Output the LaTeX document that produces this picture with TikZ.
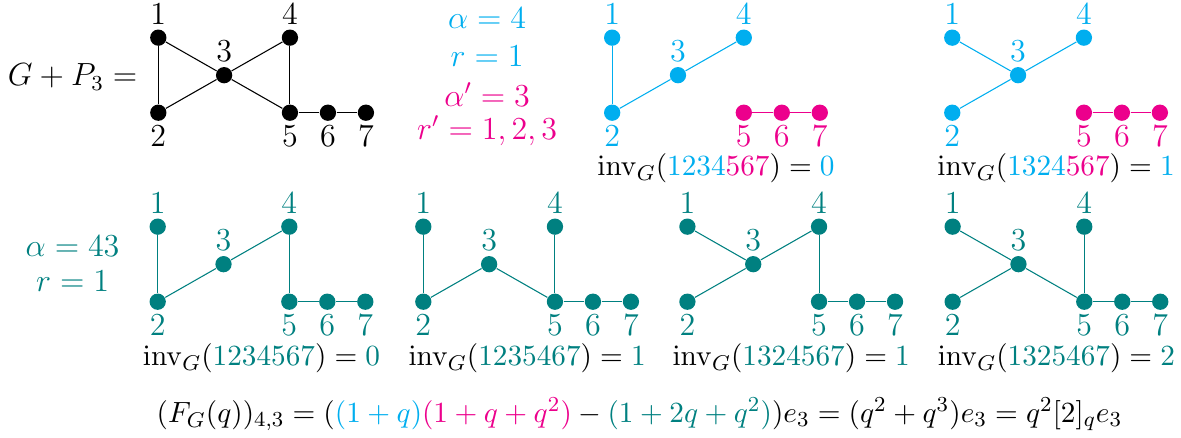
\documentclass[tikz,border=0pt]{standalone}
\usepackage{amsmath,amssymb}
\usepackage{xcolor}
\usepackage{tikz}
\usetikzlibrary{positioning}

\definecolor{myblue}{RGB}{0,174,239}
\definecolor{mypink}{RGB}{236,0,140}
\definecolor{myteal}{RGB}{0,128,128}

% the seven vertices of one graph: #1 colour of 1--4, #2 colour of 5--7
\newcommand{\sevenverts}[2]{%
  \node[vert=#1, label={[numlab=#1]above:$1$}] (v1) at (0,1.975) {};
  \node[vert=#1, label={[numlab=#1]below:$2$}] (v2) at (0,0) {};
  \node[vert=#1, label={[numlab=#1]above:$3$}] (v3) at (1.732,0.9875) {};
  \node[vert=#1, label={[numlab=#1]above:$4$}] (v4) at (3.464,1.975) {};
  \node[vert=#2, label={[numlab=#2]below:$5$}] (v5) at (3.464,0) {};
  \node[vert=#2, label={[numlab=#2]below:$6$}] (v6) at (4.464,0) {};
  \node[vert=#2, label={[numlab=#2]below:$7$}] (v7) at (5.464,0) {};
}

\begin{document}
\begin{tikzpicture}[
    x=0.5cm, y=0.5cm,
    vert/.style={circle, fill=#1, inner sep=0pt, minimum size=6.1pt},
    numlab/.style={text=#1, font=\large, inner sep=1.5pt},
    link/.style={draw=#1, line width=0.4pt},
    txt/.style={font=\large, anchor=base, inner sep=0pt},
    invtxt/.style={font=\fontsize{11}{13}\selectfont, anchor=base, inner sep=0pt}
]
\useasboundingbox (0,0) rectangle (31.08,-11.526);

% G + P_3
\node[txt] (gname) at (1.91,-2.263) {$G+P_3=$};
\begin{scope}[shift={(4.166,-2.966)}, name prefix=g-]
  \sevenverts{black}{black}
  \draw[link=black] (v1) -- (v2);
  \draw[link=black] (v1) -- (v3);
  \draw[link=black] (v2) -- (v3);
  \draw[link=black] (v3) -- (v4);
  \draw[link=black] (v3) -- (v5);
  \draw[link=black] (v4) -- (v5);
  \draw[link=black] (v5) -- (v6);
  \draw[link=black] (v6) -- (v7);
\end{scope}

% parameters of the top row
\node[txt, text=myblue] (alpha) at (12.82,-0.745) {$\alpha=4$};
\node[txt, text=myblue] (rval) at (12.82,-1.755) {$r=1$};
\node[txt, text=mypink] (alphap) at (12.82,-2.79) {$\alpha'=3$};
\node[txt, text=mypink] (rvalp) at (12.82,-3.66) {$r'=1,2,3$};

% top row
\begin{scope}[shift={(16.11,-2.966)}, name prefix=b1-]
  \sevenverts{myblue}{mypink}
  \draw[link=myblue] (v1) -- (v2);
  \draw[link=myblue] (v2) -- (v3);
  \draw[link=myblue] (v3) -- (v4);
  \draw[link=mypink] (v5) -- (v6);
  \draw[link=mypink] (v6) -- (v7);
  \node[invtxt] (inv) at (2.732,-1.664) {$\mathrm{inv}_G(\textcolor{myblue}{1234}\textcolor{mypink}{567})=\textcolor{myblue}{0}$};
\end{scope}
\begin{scope}[shift={(25.06,-2.966)}, name prefix=b2-]
  \sevenverts{myblue}{mypink}
  \draw[link=myblue] (v1) -- (v3);
  \draw[link=myblue] (v2) -- (v3);
  \draw[link=myblue] (v3) -- (v4);
  \draw[link=mypink] (v5) -- (v6);
  \draw[link=mypink] (v6) -- (v7);
  \node[invtxt] (inv) at (2.732,-1.664) {$\mathrm{inv}_G(\textcolor{myblue}{1324}\textcolor{mypink}{567})=\textcolor{myblue}{1}$};
\end{scope}

% bottom row
\node[txt, text=myteal] (alphab) at (1.91,-6.737) {$\alpha=43$};
\node[txt, text=myteal] (rvalb) at (1.91,-7.675) {$r=1$};

\begin{scope}[shift={(4.15,-7.94)}, name prefix=t1-]
  \sevenverts{myteal}{myteal}
  \draw[link=myteal] (v1) -- (v2);
  \draw[link=myteal] (v2) -- (v3);
  \draw[link=myteal] (v3) -- (v4);
  \draw[link=myteal] (v4) -- (v5);
  \draw[link=myteal] (v5) -- (v6);
  \draw[link=myteal] (v6) -- (v7);
  \node[invtxt] (inv) at (2.732,-1.69) {$\mathrm{inv}_G(\textcolor{myteal}{1234567})=\textcolor{myteal}{0}$};
\end{scope}
\begin{scope}[shift={(11.14,-7.94)}, name prefix=t2-]
  \sevenverts{myteal}{myteal}
  \draw[link=myteal] (v1) -- (v2);
  \draw[link=myteal] (v2) -- (v3);
  \draw[link=myteal] (v3) -- (v5);
  \draw[link=myteal] (v4) -- (v5);
  \draw[link=myteal] (v5) -- (v6);
  \draw[link=myteal] (v6) -- (v7);
  \node[invtxt] (inv) at (2.732,-1.69) {$\mathrm{inv}_G(\textcolor{myteal}{1235467})=\textcolor{myteal}{1}$};
\end{scope}
\begin{scope}[shift={(18.09,-7.94)}, name prefix=t3-]
  \sevenverts{myteal}{myteal}
  \draw[link=myteal] (v1) -- (v3);
  \draw[link=myteal] (v2) -- (v3);
  \draw[link=myteal] (v3) -- (v4);
  \draw[link=myteal] (v4) -- (v5);
  \draw[link=myteal] (v5) -- (v6);
  \draw[link=myteal] (v6) -- (v7);
  \node[invtxt] (inv) at (2.732,-1.69) {$\mathrm{inv}_G(\textcolor{myteal}{1324567})=\textcolor{myteal}{1}$};
\end{scope}
\begin{scope}[shift={(25.07,-7.94)}, name prefix=t4-]
  \sevenverts{myteal}{myteal}
  \draw[link=myteal] (v1) -- (v3);
  \draw[link=myteal] (v2) -- (v3);
  \draw[link=myteal] (v3) -- (v5);
  \draw[link=myteal] (v4) -- (v5);
  \draw[link=myteal] (v5) -- (v6);
  \draw[link=myteal] (v6) -- (v7);
  \node[invtxt] (inv) at (2.732,-1.69) {$\mathrm{inv}_G(\textcolor{myteal}{1325467})=\textcolor{myteal}{2}$};
\end{scope}

% the sum
\node[invtxt] (sum) at (16.83,-11.12) {$(F_G(q))_{4,3}=(\textcolor{myblue}{(1+q)}\textcolor{mypink}{(1+q+q^2)}-\textcolor{myteal}{(1+2q+q^2)})e_3=(q^2+q^3)e_3=q^2[2]_qe_3$};

\end{tikzpicture}
\end{document}
